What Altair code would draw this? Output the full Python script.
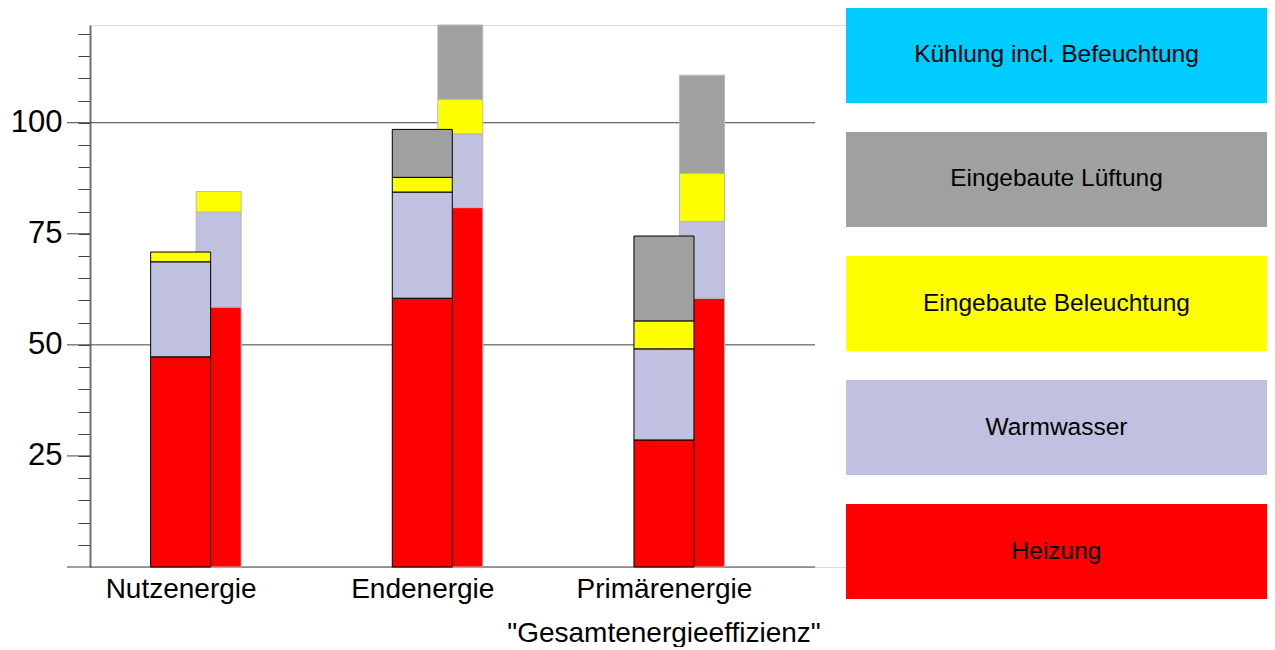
import json
import altair as alt
import pandas as pd

# ---------------- data ----------------
categories = ["Nutzenergie", "Endenergie", "Primärenergie"]
components = ["Heizung", "Warmwasser", "Eingebaute Beleuchtung",
              "Eingebaute Lüftung", "Kühlung incl. Befeuchtung"]
colors = ["#FF0000", "#C0C0E0", "#FFFF00", "#A0A0A0", "#00CCFF"]
legend_order = ["Kühlung incl. Befeuchtung", "Eingebaute Lüftung",
                "Eingebaute Beleuchtung", "Warmwasser", "Heizung"]

# wide (outlined) bars
heizung_a = [47.3, 60.5, 28.6]
warmwasser_a = [21.4, 23.9, 20.5]
beleuchtung_a = [2.2, 3.3, 6.3]
lueftung_a = [0.0, 10.8, 19.1]
kuehlung_a = [0.0, 0.0, 0.0]

# narrow (reference) bars
heizung_b = [58.5, 80.9, 60.5]
warmwasser_b = [21.4, 16.6, 17.3]
beleuchtung_b = [4.6, 7.8, 10.8]
lueftung_b = [0.0, 16.7, 22.1]
kuehlung_b = [0.0, 0.0, 0.0]

x_title = '"Gesamtenergieeffizienz"'
y_tick_values = [5, 10, 15, 20, 25, 30, 35, 40, 45, 50, 55, 60,
                 65, 70, 75, 80, 85, 90, 95, 100, 105, 110, 115, 120]
grid_values = [0, 50, 100]
major_only_values = [25, 75]

FONT = "Liberation Sans"


def stacked(series_list):
    rows = []
    for ci, cat in enumerate(categories):
        base = 0.0
        for comp, vals in zip(components, series_list):
            v = vals[ci]
            if v > 0:
                rows.append(dict(idx=ci, cat=cat, comp=comp, y0=base, y1=base + v))
            base += v
    return pd.DataFrame(rows)


df_a = stacked([heizung_a, warmwasser_a, beleuchtung_a, lueftung_a, kuehlung_a])
df_b = stacked([heizung_b, warmwasser_b, beleuchtung_b, lueftung_b, kuehlung_b])

color_scale = alt.Scale(domain=components, range=colors)
x_scale = alt.Scale(domain=[-0.375, 2.625], range=[0, 725], padding=0,
                    nice=False, zero=False)
y_scale = alt.Scale(domain=[0, 122], nice=False, zero=True)

cat_js = json.dumps(categories, ensure_ascii=False)
x_axis = alt.Axis(values=[0, 1, 2], labelExpr=f"{cat_js}[datum.value]",
                  domain=False, ticks=False, grid=False, labelFontSize=28,
                  labelFont=FONT, labelColor="black", labelPadding=8,
                  labelFlush=False, labelOverlap=False,
                  title=x_title, titleFont=FONT, titleFontSize=28,
                  titleFontWeight="normal", titleColor="black",
                  titleX=573.5, titleY=74, titleBaseline="alphabetic",
                  titleAlign="center")
y_axis = alt.Axis(values=y_tick_values,
                  labelExpr="datum.value % 25 === 0 ? datum.label : ''",
                  tickSize=12, tickColor="#404040", tickWidth=1,
                  domainColor="#707070", domainWidth=2, grid=False,
                  labelFontSize=31, labelFont=FONT, labelColor="black",
                  labelPadding=16, title=None, minExtent=82, maxExtent=82)

grid = alt.Chart(pd.DataFrame({"v": grid_values})).mark_rule(
    color="#404040", strokeWidth=1).encode(
    y=alt.Y("v:Q", scale=y_scale, axis=y_axis),
    x=alt.value(-23), x2=alt.value(725))

major = alt.Chart(pd.DataFrame({"v": major_only_values})).mark_rule(
    color="#404040", strokeWidth=1).encode(
    y=alt.Y("v:Q", scale=y_scale, axis=y_axis),
    x=alt.value(-23), x2=alt.value(0))

bars_b = alt.Chart(df_b).mark_bar(width=45, xOffset=38, stroke="#b8b8b8",
                                  strokeWidth=1).encode(
    x=alt.X("idx:Q", scale=x_scale, axis=x_axis),
    y=alt.Y("y0:Q", scale=y_scale, axis=y_axis),
    y2="y1:Q",
    color=alt.Color("comp:N", scale=color_scale, legend=None))

bars_a = alt.Chart(df_a).mark_bar(width=60, stroke="black",
                                  strokeWidth=1).encode(
    x=alt.X("idx:Q", scale=x_scale, axis=x_axis),
    y=alt.Y("y0:Q", scale=y_scale, axis=y_axis),
    y2="y1:Q",
    color=alt.Color("comp:N", scale=color_scale, legend=None))

main = alt.layer(grid, major, bars_b, bars_a)

legend_df = pd.DataFrame({"comp": legend_order})
legend_y = alt.Y("comp:N", axis=None,
                 scale=alt.Scale(domain=legend_order, range=[-17, 574],
                                 paddingInner=0.234, paddingOuter=0))
legend_rect = alt.Chart(legend_df).mark_rect().encode(
    y=legend_y, x=alt.value(756), x2=alt.value(1177),
    color=alt.Color("comp:N", scale=color_scale, legend=None))
legend_text = alt.Chart(legend_df).mark_text(
    font=FONT, fontSize=24.5, color="black", align="center",
    baseline="middle").encode(
    y=legend_y, x=alt.value(966.5), text="comp:N")
legend = alt.layer(legend_rect, legend_text)

chart = alt.layer(main, legend).resolve_scale(y="independent").properties(
    width=1177, height=542,
    padding={"left": 0, "top": 0, "right": 0, "bottom": 0},
).configure_view(stroke=None).configure(background="white")

chart.save("out.html", embed_options={"renderer": "svg", "actions": False})
